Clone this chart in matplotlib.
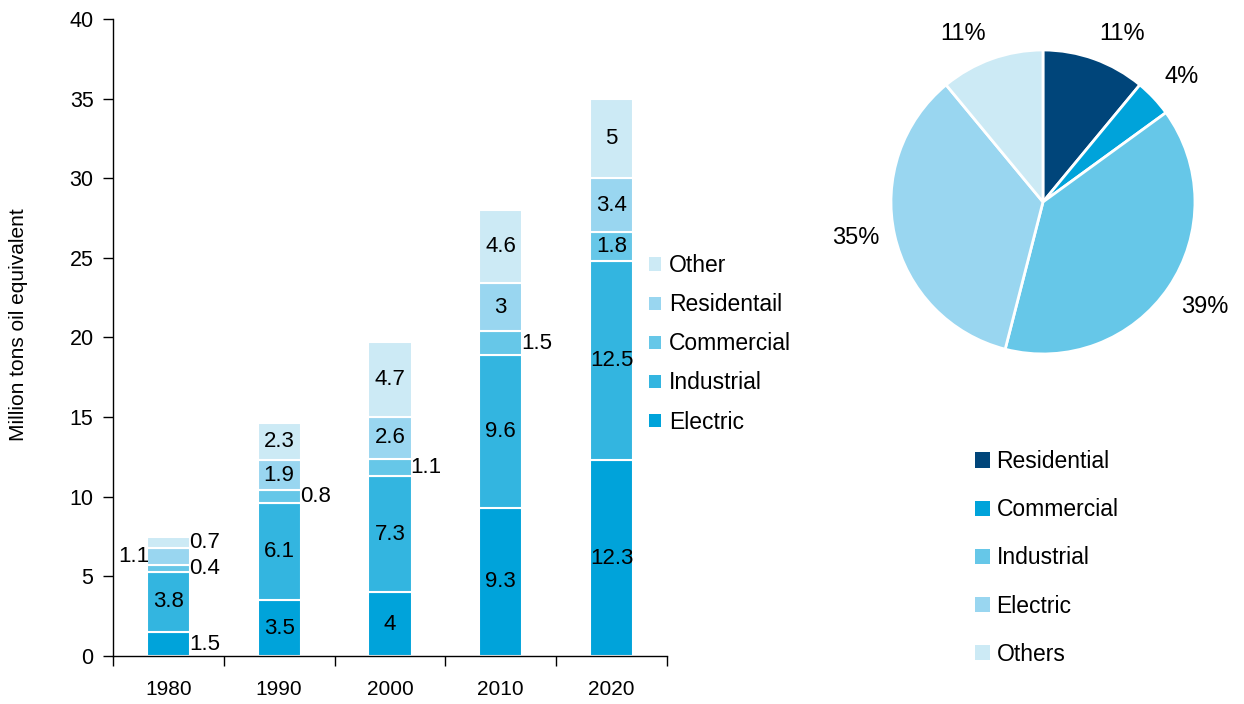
import numpy as np
import matplotlib
matplotlib.use('Agg')
import matplotlib.pyplot as plt
from matplotlib.patches import Patch

plt.rcParams['font.family'] = ['Liberation Sans', 'DejaVu Sans']

# stacked bars, bottom to top
years = ['1980', '1990', '2000', '2010', '2020']
electric = [1.5, 3.5, 4, 9.3, 12.3]
industrial = [3.8, 6.1, 7.3, 9.6, 12.5]
commercial = [0.4, 0.8, 1.1, 1.5, 1.8]
residentail = [1.1, 1.9, 2.6, 3, 3.4]
other = [0.7, 2.3, 4.7, 4.6, 5]
bar_names = ['Electric', 'Industrial', 'Commercial', 'Residentail', 'Other']
bar_colors = ['#00a3da', '#33b5e0', '#66c7e8', '#99d6f0', '#cceaf5']

# share by sector
pie_names = ['Residential', 'Commercial', 'Industrial', 'Electric', 'Others']
pie_shares = [11, 4, 39, 35, 11]
pie_colors = ['#00457a', '#00a3da', '#66c7e8', '#99d6f0', '#cceaf5']

fig = plt.figure(figsize=(12.44, 7.04), dpi=100)
ax = fig.add_axes([0.0908, 0.0682, 0.4453, 0.9048])

series = [electric, industrial, commercial, residentail, other]
x = np.arange(len(years))
bw = 0.39
bottom = np.zeros(len(years))
for name, vals, col in zip(bar_names, series, bar_colors):
    vals = np.array(vals, dtype=float)
    ax.bar(x, vals, width=bw, bottom=bottom, color=col,
           edgecolor='white', linewidth=1.5, label=name)
    for i, v in enumerate(vals):
        yc = bottom[i] + v / 2
        txt = f'{v:g}'
        # thin segments get their value beside the bar
        if name == 'Residentail' and v < 1.2:
            ax.text(x[i] - 0.17, yc, txt, ha='right', va='center', fontsize=16)
        elif v < 1.6 and i != 4:
            ax.text(x[i] + 0.185, yc, txt, ha='left', va='center', fontsize=16)
        else:
            ax.text(x[i], yc, txt, ha='center', va='center', fontsize=16)
    bottom += vals

ax.set_ylim(0, 40)
ax.set_xlim(-0.5, 4.5)
ax.set_yticks(range(0, 41, 5))
ax.set_xticks(np.arange(-0.5, 5, 1))
ax.set_xticklabels([])
ax.set_xticks(x, minor=True)
ax.set_xticklabels(years, minor=True)
ax.tick_params(axis='x', which='minor', length=0, pad=17, labelsize=15)
ax.tick_params(axis='x', which='major', length=7, direction='out', width=1)
ax.tick_params(axis='y', length=7, direction='out', width=1, labelsize=15.5, pad=7)
for s in ['top', 'right']:
    ax.spines[s].set_visible(False)
ax.spines['left'].set_linewidth(1)
ax.spines['bottom'].set_linewidth(1)
ax.set_ylabel('Million tons oil equivalent', fontsize=15)
ax.yaxis.set_label_coords(-0.153, 0.52)

leg_handles = [Patch(facecolor=c) for c in bar_colors][::-1]
fig.legend(leg_handles, bar_names[::-1], loc='upper left',
           bbox_to_anchor=(0.505, 0.668), frameon=False, fontsize=16.5,
           handlelength=0.53, handleheight=0.53, handletextpad=0.35,
           labelspacing=0.7)

# pie on the right
pax = fig.add_axes([0.7162, 0.4972, 0.2444, 0.4318])
wedges, texts = pax.pie(pie_shares, colors=pie_colors, startangle=90,
                        counterclock=False, labels=[f'{s}%' for s in pie_shares],
                        labeldistance=1.1,
                        wedgeprops=dict(edgecolor='white', linewidth=2),
                        textprops=dict(fontsize=17))
for t in texts:
    tx, ty = t.get_position()
    t.set_ha('left' if tx > 0 else 'right')
    if ty > 0.5:
        t.set_va('bottom')
    elif ty < -0.5:
        t.set_va('top')
    else:
        t.set_va('center')
pax.set_xlim(-1, 1)
pax.set_ylim(-1, 1)

pie_handles = [Patch(facecolor=c) for c in pie_colors]
fig.legend(pie_handles, pie_names, loc='upper left',
           bbox_to_anchor=(0.767, 0.39), frameon=False, fontsize=16.5,
           handlelength=0.65, handleheight=0.65, handletextpad=0.3,
           labelspacing=1.1)

fig.savefig('out.png', dpi=100)
